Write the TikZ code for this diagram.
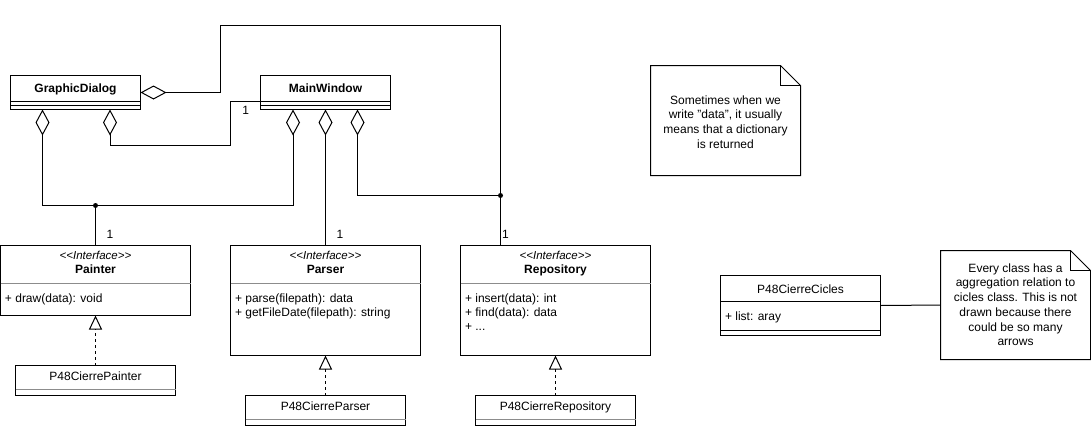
\documentclass[tikz,border=0pt]{standalone}
\usepackage{fontspec}
\setmainfont{Liberation Sans}
\usetikzlibrary{arrows.meta}
\begin{document}
\begin{tikzpicture}[x=1pt,y=-1pt,line width=1pt,
  box/.style={draw,line width=1pt,inner sep=0pt,outer sep=0pt},
  shapebox/.style={draw=none,inner sep=0pt,outer sep=0pt},
  txt/.style={inner sep=0pt,outer sep=0pt,text height=8.6pt,text depth=0pt,font=\fontsize{12}{14}\selectfont},
  cname/.style={txt,font=\fontsize{12}{14}\selectfont\bfseries},
  stereo/.style={txt,font=\fontsize{11.5}{14}\selectfont\itshape},
  member/.style={txt,anchor=west},
  notetext/.style={inner sep=0pt,outer sep=0pt,align=center,font=\fontsize{12}{14.7}\selectfont},
  sep/.style={draw=black!45,line width=1pt},
  agg/.style={{Diamond[open,length=26pt,width=14pt]}-},
  real/.style={dash pattern=on 3pt off 3pt,-{Triangle[open,length=14pt,width=13pt]}},
  dot/.style={circle,fill=black,inner sep=0pt,minimum size=5pt}
]
\useasboundingbox (0,0) rectangle (1091,426);

% ---------- classes ----------
\node[box,minimum width=130pt,minimum height=34pt] (gd) at (75.5,92.5) {};
\node[box,minimum width=130pt,minimum height=34pt] (mw) at (325.5,92.5) {};
\node[box,minimum width=190pt,minimum height=70pt] (painter) at (95.5,280.5) {};
\node[box,minimum width=190pt,minimum height=110pt] (parser) at (325.5,300.5) {};
\node[box,minimum width=190pt,minimum height=110pt] (repo) at (555.5,300.5) {};
\node[box,minimum width=160pt,minimum height=30pt] (pp) at (95.5,380.5) {};
\node[box,minimum width=160pt,minimum height=30pt] (ppar) at (325.5,410.5) {};
\node[box,minimum width=160pt,minimum height=30pt] (prep) at (555.5,410.5) {};
\node[box,minimum width=160pt,minimum height=60pt] (cic) at (800.5,305.5) {};

% separators
\draw ([yshift=-9pt]gd.west) -- ([yshift=-9pt]gd.east);
\draw ([yshift=-13pt]gd.west) -- ([yshift=-13pt]gd.east);
\draw ([yshift=-9pt]mw.west) -- ([yshift=-9pt]mw.east);
\draw ([yshift=-13pt]mw.west) -- ([yshift=-13pt]mw.east);
\draw[sep] ([yshift=-3pt]painter.west) -- ([yshift=-3pt]painter.east);
\draw[sep] ([yshift=17pt]parser.west) -- ([yshift=17pt]parser.east);
\draw[sep] ([yshift=17pt]repo.west) -- ([yshift=17pt]repo.east);
\draw[sep] ([yshift=-9pt]pp.west) -- ([yshift=-9pt]pp.east);
\draw[sep] ([yshift=-9pt]ppar.west) -- ([yshift=-9pt]ppar.east);
\draw[sep] ([yshift=-9pt]prep.west) -- ([yshift=-9pt]prep.east);
\draw ([yshift=4pt]cic.west) -- ([yshift=4pt]cic.east);
\draw ([yshift=-25pt]cic.west) -- ([yshift=-25pt]cic.east);

% class texts
\node[cname] (gdname) at (75.5,88.5) {GraphicDialog};
\node[cname] (mwname) at (325.5,88.5) {MainWindow};

\node[stereo] (pst) at (95.5,255.5) {<{}<Interface>{}>};
\node[cname] (pname) at (95.5,269.5) {Painter};
\node[member] (pm1) at (5,298) {+ draw(data): void};

\node[stereo] (parst) at (325.5,255.5) {<{}<Interface>{}>};
\node[cname] (parname) at (325.5,269.5) {Parser};
\node[member] (parm1) at (235,298) {+ parse(filepath): data};
\node[member] (parm2) at (235,312) {+ getFileDate(filepath): string};

\node[stereo] (rst) at (555.5,255.5) {<{}<Interface>{}>};
\node[cname] (rname) at (555.5,269.5) {Repository};
\node[member] (rm1) at (465,298) {+ insert(data): int};
\node[member] (rm2) at (465,312) {+ find(data): data};
\node[member] (rm3) at (465,326) {+ ...};

\node[txt] (ppname) at (95.5,376) {P48CierrePainter};
\node[txt] (pparname) at (325.5,406) {P48CierreParser};
\node[txt] (prepname) at (555.5,406) {P48CierreRepository};
\node[txt] (cicname) at (800.5,289) {P48CierreCicles};
\node[member] (cicm1) at (725,316) {+ list: aray};

% ---------- notes ----------
\node[shapebox,minimum width=150pt,minimum height=110pt] (nt1) at (725.5,120.5) {};
\draw (nt1.south west) -- (nt1.north west) -- ([xshift=-20pt]nt1.north east)
  -- ([yshift=-20pt]nt1.north east) -- (nt1.south east) -- cycle;
\draw ([xshift=-20pt]nt1.north east) -- ([xshift=-20pt,yshift=-20pt]nt1.north east)
  -- ([yshift=-20pt]nt1.north east);
\node[notetext] (nt1text) at (725.5,122) {Sometimes when we\\write "data", it usually\\means that a dictionary\\is returned};

\node[shapebox,minimum width=150pt,minimum height=109pt] (nt2) at (1015.5,305) {};
\draw (nt2.south west) -- (nt2.north west) -- ([xshift=-20pt]nt2.north east)
  -- ([yshift=-20pt]nt2.north east) -- (nt2.south east) -- cycle;
\draw ([xshift=-20pt]nt2.north east) -- ([xshift=-20pt,yshift=-20pt]nt2.north east)
  -- ([yshift=-20pt]nt2.north east);
\node[notetext] (nt2text) at (1015.5,304.7) {Every class has a\\aggregation relation to\\cicles class. This is not\\drawn because there\\could be so many\\arrows};

% ---------- connectors ----------
\coordinate (j1) at (95.5,205.5);
\coordinate (j3) at (500.5,195.5);
\coordinate (tr) at (500.5,25.5);
\coordinate (b2) at (230.5,145.5);

\draw[agg] (gd.east) -- ++(80,0) |- (tr) -- (tr |- repo.north);
\draw[agg] ([xshift=32pt]mw.south) |- (j3);
\draw[agg] ([xshift=-33pt]gd.south) |- (j1);
\draw[agg] ([xshift=-32.5pt]mw.south) |- (j1);
\draw (j1) -- (painter.north);
\draw[agg] ([xshift=34.5pt]gd.south) |- (b2) |- ([yshift=-8.5pt]mw.west);
\draw[agg] (mw.south) -- (parser.north);

\node[dot] (d1) at (j1) {};
\node[dot] (d3) at (j3) {};

\draw[real] (pp.north) -- (painter.south);
\draw[real] (ppar.north) -- (parser.south);
\draw[real] (prep.north) -- (repo.south);

\draw (cic.east) -- (nt2.west);

% multiplicities
\node[txt] (m1) at (245.7,110) {1};
\node[txt] (m2) at (110,234) {1};
\node[txt] (m3) at (340,234) {1};
\node[txt] (m4) at (505.5,234) {1};
\end{tikzpicture}
\end{document}
